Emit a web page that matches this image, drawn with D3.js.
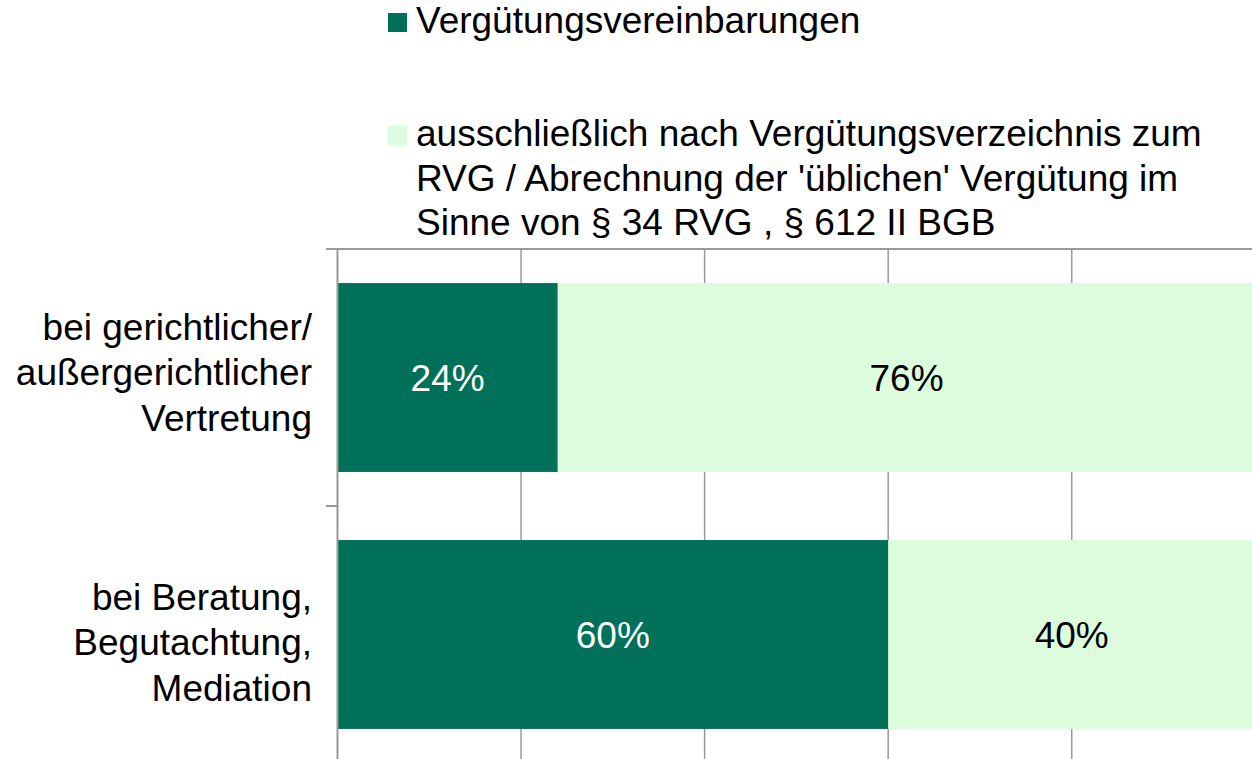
<!DOCTYPE html>
<html><head><meta charset="utf-8">
<script src="https://cdn.jsdelivr.net/npm/d3@7"></script>
<style>body{margin:0;background:#fff}svg{display:block;font-family:"Liberation Sans",Arial,sans-serif}</style>
</head><body><svg id="c" width="1252" height="759"></svg>
<script>
const categories = [["bei gerichtlicher/","außergerichtlicher","Vertretung"],["bei Beratung,","Begutachtung,","Mediation"]];
const seriesNames = ["Vergütungsvereinbarungen","ausschließlich nach Vergütungsverzeichnis zum RVG / Abrechnung der 'üblichen' Vergütung im Sinne von § 34 RVG , § 612 II BGB"];
const legendLines = [["Vergütungsvereinbarungen"],["ausschließlich nach Vergütungsverzeichnis zum","RVG / Abrechnung der 'üblichen' Vergütung im","Sinne von § 34 RVG , § 612 II BGB"]];
const vereinbarungen = [24, 60];
const verzeichnis = [76, 40];
const ticks = [0, 20, 40, 60, 80, 100];
const colors = ["#007058", "#ddfbdd"];
const labelColors = ["#ffffff", "#000000"];

(function(){
const svg = d3.select("#c");
const fs = 37;
const pLeft = 337.5, pRight = 1255.3, pTop = 249, pBottom = 763;
const x = d3.scaleLinear().domain([0,100]).range([pLeft, pRight]);
const y = d3.scaleBand().domain(d3.range(categories.length)).range([pTop, pBottom]).paddingInner(0.265).paddingOuter(0.1325);
const yLab = d3.scaleBand().domain(d3.range(categories.length)).range([236, 776]);

const grid = "#999999";
svg.append("g").selectAll("line").data(ticks.slice(1)).join("line")
  .attr("x1", d=>x(d)).attr("x2", d=>x(d)).attr("y1", pTop).attr("y2", 759)
  .attr("stroke", grid).attr("stroke-width", 1.5);

const stackData = categories.map((c,i)=>({i, a: vereinbarungen[i], b: verzeichnis[i]}));
const stack = d3.stack().keys(["a","b"])(stackData);

stack.forEach((s, si) => {
  svg.append("g").selectAll("rect").data(s).join("rect")
    .attr("x", d=>x(d[0])).attr("width", d=>x(d[1])-x(d[0]))
    .attr("y", d=>y(d.data.i)).attr("height", y.bandwidth())
    .attr("fill", colors[si]);
  svg.append("g").selectAll("text").data(s).join("text")
    .attr("x", d=>(x(d[0])+x(d[1]))/2).attr("y", d=>y(d.data.i)+y.bandwidth()/2 + 13.5)
    .attr("text-anchor","middle").attr("font-size",fs)
    .attr("fill", labelColors[si]).text(d=>(d[1]-d[0])+"%");
});

svg.append("line").attr("x1", 326).attr("x2", 1252).attr("y1", pTop).attr("y2", pTop).attr("stroke", grid).attr("stroke-width", 2);
svg.append("line").attr("x1", pLeft).attr("x2", pLeft).attr("y1", pTop).attr("y2", 759).attr("stroke", grid).attr("stroke-width", 2);
const bounds = [pTop, (pTop+pBottom)/2, pBottom];
svg.append("g").selectAll("line").data(bounds).join("line")
  .attr("x1", 326).attr("x2", pLeft).attr("y1", d=>d).attr("y2", d=>d).attr("stroke", grid).attr("stroke-width", 2);

categories.forEach((lines, i) => {
  const cy = yLab(i) + yLab.bandwidth()/2;
  const lh = 45.5;
  const t = svg.append("text").attr("text-anchor","end").attr("font-size",fs).attr("fill","#000");
  lines.forEach((l, k) => {
    t.append("tspan").attr("x", 312).attr("y", cy + 14 + (k - (lines.length-1)/2)*lh).text(l);
  });
});

const legY = [33, 146];
legendLines.forEach((lines, i) => {
  svg.append("rect").attr("x", 388).attr("y", legY[i]-20).attr("width", 19).attr("height", 19).attr("fill", colors[i]);
  const t = svg.append("text").attr("font-size",fs).attr("fill","#000");
  lines.forEach((l,k)=>{
    t.append("tspan").attr("x", 416).attr("y", legY[i] + k*44.5).text(l);
  });
});
})();
</script></body></html>
